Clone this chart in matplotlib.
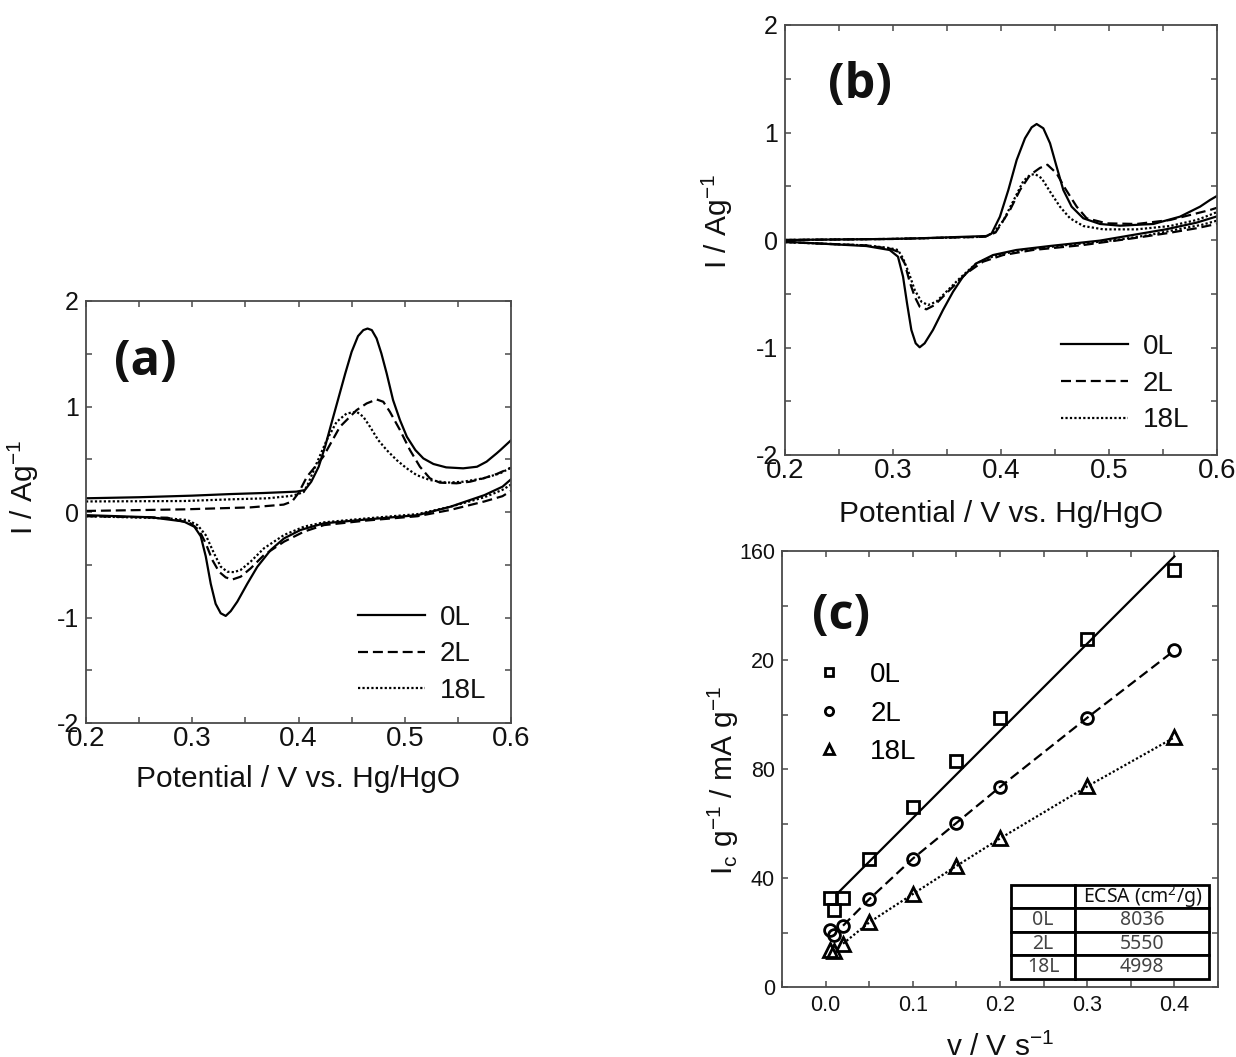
import numpy as np
import matplotlib
matplotlib.use("Agg")
import matplotlib.pyplot as plt
from matplotlib.ticker import MultipleLocator, FixedLocator, FixedFormatter

plt.rcParams['font.family'] = ['Liberation Sans', 'DejaVu Sans']
plt.rcParams['mathtext.fontset'] = 'custom'
plt.rcParams['mathtext.rm'] = 'Liberation Sans'
plt.rcParams['mathtext.it'] = 'Liberation Sans:italic'
plt.rcParams['mathtext.default'] = 'regular'
plt.rcParams['axes.unicode_minus'] = False

# ---------------- data: panel (a) CVs (E / V, I / A g-1) ----------------
a_0L_anodic = [(0.200, 0.13), (0.250, 0.14), (0.300, 0.155), (0.336, 0.17), (0.367, 0.18), (0.398, 0.193),
               (0.406, 0.208), (0.412, 0.287), (0.419, 0.429), (0.425, 0.619), (0.431, 0.840), (0.4375, 1.076),
               (0.444, 1.313), (0.450, 1.518), (0.456, 1.667), (0.461, 1.724), (0.465, 1.739), (0.469, 1.724),
               (0.4735, 1.645), (0.478, 1.503), (0.483, 1.313), (0.489, 1.061), (0.4955, 0.871), (0.502, 0.713),
               (0.510, 0.587), (0.5175, 0.508), (0.527, 0.455), (0.539, 0.423), (0.555, 0.414), (0.568, 0.429),
               (0.577, 0.477), (0.5865, 0.556), (0.590, 0.587), (0.600, 0.68)]
a_0L_cathodic = [(0.200, -0.03), (0.261, -0.05), (0.292, -0.09), (0.302, -0.14), (0.308, -0.23), (0.3127, -0.42),
                 (0.3174, -0.68), (0.322, -0.87), (0.3268, -0.96), (0.3315, -0.985), (0.3362, -0.94),
                 (0.3424, -0.85), (0.3518, -0.68), (0.3612, -0.52), (0.3738, -0.36), (0.3864, -0.25),
                 (0.402, -0.17), (0.424, -0.107), (0.465, -0.07), (0.512, -0.03), (0.543, 0.05), (0.575, 0.16),
                 (0.592, 0.24), (0.600, 0.31)]
a_2L_anodic = [(0.200, 0.01), (0.292, 0.025), (0.355, 0.044), (0.386, 0.07), (0.394, 0.10), (0.400, 0.18),
               (0.408, 0.335), (0.4233, 0.524), (0.439, 0.808), (0.4547, 0.966), (0.4641, 1.029), (0.4735, 1.067),
               (0.4798, 1.045), (0.486, 0.950), (0.4955, 0.777), (0.5049, 0.587), (0.5143, 0.429), (0.5237, 0.319),
               (0.5331, 0.278), (0.5488, 0.272), (0.5614, 0.287), (0.574, 0.319), (0.5865, 0.360), (0.600, 0.42)]
a_2L_cathodic = [(0.200, -0.04), (0.2765, -0.054), (0.2985, -0.108), (0.3064, -0.171), (0.3127, -0.297),
                 (0.3189, -0.455), (0.3252, -0.566), (0.3315, -0.62), (0.3377, -0.64), (0.3456, -0.613),
                 (0.355, -0.534), (0.3675, -0.408), (0.3864, -0.281), (0.4052, -0.186), (0.424, -0.124),
                 (0.465, -0.08), (0.512, -0.04), (0.543, 0.02), (0.575, 0.10), (0.592, 0.15), (0.600, 0.20)]
a_18L_anodic = [(0.200, 0.10), (0.292, 0.104), (0.336, 0.12), (0.371, 0.13), (0.3926, 0.152), (0.398, 0.165),
                (0.405, 0.19), (0.4092, 0.272), (0.417, 0.46), (0.4265, 0.68), (0.4359, 0.855), (0.4453, 0.934),
                (0.4547, 0.95), (0.461, 0.903), (0.4673, 0.808), (0.475, 0.682), (0.483, 0.587), (0.4924, 0.492),
                (0.5018, 0.414), (0.5112, 0.35), (0.5237, 0.303), (0.5394, 0.278), (0.5551, 0.287), (0.574, 0.319),
                (0.5896, 0.366), (0.600, 0.42)]
a_18L_cathodic = [(0.200, -0.04), (0.2765, -0.06), (0.2954, -0.076), (0.3049, -0.124), (0.3127, -0.219),
                  (0.3205, -0.392), (0.3268, -0.518), (0.333, -0.566), (0.3393, -0.57), (0.3456, -0.549),
                  (0.355, -0.47), (0.3675, -0.344), (0.3864, -0.218), (0.4052, -0.139), (0.424, -0.098),
                  (0.465, -0.06), (0.512, -0.02), (0.543, 0.05), (0.575, 0.14), (0.592, 0.21), (0.600, 0.26)]

# ---------------- data: panel (b) CVs ----------------
b_0L_anodic = [(0.200, 0.0), (0.300, 0.01), (0.325, 0.016), (0.3867, 0.037), (0.3913, 0.06), (0.399, 0.217),
               (0.4068, 0.465), (0.4145, 0.744), (0.4222, 0.946), (0.4284, 1.048), (0.433, 1.079), (0.4392, 1.039),
               (0.4454, 0.90), (0.4515, 0.682), (0.4577, 0.465), (0.4654, 0.31), (0.4762, 0.202), (0.4917, 0.149),
               (0.5102, 0.133), (0.5411, 0.149), (0.5657, 0.217), (0.5843, 0.31), (0.5935, 0.372), (0.600, 0.41)]
b_0L_cathodic = [(0.200, -0.016), (0.2753, -0.056), (0.2969, -0.093), (0.3046, -0.155), (0.3093, -0.341),
                 (0.313, -0.589), (0.317, -0.837), (0.321, -0.961), (0.3247, -0.998), (0.3293, -0.961),
                 (0.337, -0.837), (0.3463, -0.651), (0.3556, -0.481), (0.3648, -0.341), (0.3772, -0.217),
                 (0.3926, -0.14), (0.4142, -0.093), (0.4451, -0.056), (0.4914, -0.006), (0.5222, 0.047),
                 (0.5531, 0.10), (0.5809, 0.161), (0.600, 0.22)]
b_2L_anodic = [(0.200, 0.0), (0.300, 0.01), (0.385, 0.03), (0.395, 0.07), (0.4083, 0.279), (0.4176, 0.465),
               (0.4269, 0.605), (0.436, 0.67), (0.443, 0.70), (0.4515, 0.62), (0.4593, 0.481), (0.4701, 0.31),
               (0.4793, 0.202), (0.4978, 0.155), (0.5256, 0.149), (0.5565, 0.186), (0.5812, 0.248),
               (0.5935, 0.279), (0.600, 0.30)]
b_2L_cathodic = [(0.200, -0.02), (0.2753, -0.05), (0.2969, -0.08), (0.3046, -0.109), (0.3108, -0.217),
                 (0.3154, -0.388), (0.3201, -0.527), (0.3247, -0.62), (0.3309, -0.645), (0.3386, -0.605),
                 (0.3463, -0.527), (0.3556, -0.434), (0.3679, -0.31), (0.3833, -0.202), (0.4019, -0.14),
                 (0.4296, -0.093), (0.4759, -0.047), (0.5222, 0.016), (0.5531, 0.062), (0.5809, 0.109),
                 (0.600, 0.15)]
b_18L_anodic = [(0.200, 0.0), (0.300, 0.01), (0.385, 0.03), (0.3929, 0.068), (0.402, 0.177), (0.4114, 0.363),
                (0.4207, 0.549), (0.4269, 0.605), (0.4315, 0.614), (0.4377, 0.574), (0.4454, 0.45),
                (0.4546, 0.31), (0.4639, 0.202), (0.4762, 0.13), (0.4948, 0.099), (0.5256, 0.099),
                (0.5565, 0.13), (0.5812, 0.186), (0.5935, 0.233), (0.600, 0.26)]
b_18L_cathodic = [(0.200, -0.02), (0.2753, -0.05), (0.2969, -0.075), (0.3046, -0.093), (0.3093, -0.171),
                  (0.3148, -0.31), (0.3201, -0.465), (0.3263, -0.574), (0.3324, -0.605), (0.3401, -0.574),
                  (0.3494, -0.481), (0.3617, -0.357), (0.3772, -0.217), (0.3957, -0.14), (0.4204, -0.093),
                  (0.4605, -0.047), (0.5068, 0.0), (0.5377, 0.047), (0.5685, 0.109), (0.5855, 0.14),
                  (0.600, 0.18)]

# ---------------- data: panel (c) ----------------
scan_rate = [0.005, 0.01, 0.02, 0.05, 0.1, 0.15, 0.2, 0.3, 0.4]
ic_0L = [32.6, 28.2, 32.6, 46.8, 65.9, 83.0, 98.8, 127.7, 153.0]
ic_2L = [21.0, 19.2, 22.5, 32.2, 47.1, 60.2, 73.4, 98.8, 123.5]
ic_18L = [13.7, 13.2, 15.9, 23.7, 34.1, 44.4, 54.5, 73.6, 91.6]
fit_0L_slope, fit_0L_intercept, fit_0L_range = 320.0, 30.0, (0.015, 0.4)
c_ytick_values = [0, 40, 80, 120, 160]
c_ytick_labels = ['0', '40', '80', '20', '160']
table_header = ['', 'ECSA (cm$^2$/g)']
table_samples = ['0L', '2L', '18L']
table_ecsa = ['8036', '5550', '4998']

samples = ['0L', '2L', '18L']

# ---------------- styling ----------------
W, H = 1236, 1057
fig = plt.figure(figsize=(W / 100, H / 100), dpi=100)
SP = '#4a4a4a'
TXT = '#111111'
LS = {'0L': '-', '2L': (0, (4.5, 2.2)), '18L': (0, (1.0, 1.0))}
LW = 1.6


def frame(x0, y0, x1, y1):
    return [x0 / W, 1 - y1 / H, (x1 - x0) / W, (y1 - y0) / H]


def style(ax, xfs, yfs):
    for s in ax.spines.values():
        s.set_color(SP)
        s.set_linewidth(1.3)
    ax.tick_params(which='both', direction='in', top=True, right=True, color=SP, width=1.1)
    ax.tick_params(which='major', length=4.5)
    ax.tick_params(which='minor', length=4.5)
    ax.tick_params(axis='x', labelsize=xfs, labelcolor=TXT, pad=2)
    ax.tick_params(axis='y', labelsize=yfs, labelcolor=TXT, pad=5)


def cv_panel(ax, curves, letter, legend_xy):
    for name in samples:
        for branch in curves[name]:
            e = [p[0] for p in branch]
            i = [p[1] for p in branch]
            ln, = ax.plot(e, i, color='black', lw=LW, linestyle=LS[name])
        ln.set_label(name)
    ax.set_xlim(0.2, 0.6)
    ax.set_ylim(-2, 2)
    ax.xaxis.set_major_locator(MultipleLocator(0.1))
    ax.xaxis.set_minor_locator(MultipleLocator(0.05))
    ax.yaxis.set_major_locator(MultipleLocator(1))
    ax.yaxis.set_minor_locator(MultipleLocator(0.5))
    ax.xaxis.set_major_formatter(matplotlib.ticker.FormatStrFormatter('%.1f'))
    ax.yaxis.set_major_formatter(matplotlib.ticker.FormatStrFormatter('%d'))
    style(ax, 20, 18)
    ax.set_xlabel('Potential / V vs. Hg/HgO', fontsize=21.5, color=TXT)
    ax.set_ylabel('I / Ag$^{-1}$', fontsize=21.5, color=TXT)
    ax.text(letter[1], letter[2], letter[0], transform=ax.transAxes, ha='center', va='center',
            fontsize=35, fontweight='bold', family=['Open Sans', 'DejaVu Sans'], color=TXT)
    leg = ax.legend(loc='upper left', bbox_to_anchor=legend_xy, frameon=False, fontsize=20,
                    handlelength=2.4, handletextpad=0.55, labelspacing=0.38, borderpad=0, borderaxespad=0)
    for t in leg.get_texts():
        t.set_color(TXT)


# panel (a)
axa = fig.add_axes(frame(86, 301, 511, 723))
cv_panel(axa, {'0L': [a_0L_anodic, a_0L_cathodic], '2L': [a_2L_anodic, a_2L_cathodic],
               '18L': [a_18L_anodic, a_18L_cathodic]}, ('(a)', 0.139, 0.855), (0.64, 0.28))
axa.xaxis.set_label_coords(0.5, -0.10)
axa.yaxis.set_label_coords(-0.105, 0.557)

# panel (b)
axb = fig.add_axes(frame(785, 25, 1217, 455))
cv_panel(axb, {'0L': [b_0L_anodic, b_0L_cathodic], '2L': [b_2L_anodic, b_2L_cathodic],
               '18L': [b_18L_anodic, b_18L_cathodic]}, ('(b)', 0.174, 0.86), (0.639, 0.281))
axb.xaxis.set_label_coords(0.5, -0.105)
axb.yaxis.set_label_coords(-0.115, 0.542)

# panel (c)
axc = fig.add_axes(frame(782, 551, 1218, 987))
mk = {'0L': 's', '2L': 'o', '18L': '^'}
msz = {'0L': 9, '2L': 8.5, '18L': 10}
vals = {'0L': ic_0L, '2L': ic_2L, '18L': ic_18L}
xf = np.linspace(fit_0L_range[0], fit_0L_range[1], 2)
axc.plot(xf, fit_0L_slope * xf + fit_0L_intercept, color='black', lw=LW, linestyle='-')
axc.plot(scan_rate[2:], ic_2L[2:], color='black', lw=LW, linestyle=LS['2L'])
axc.plot(scan_rate[2:], ic_18L[2:], color='black', lw=LW, linestyle=(0, (1.0, 1.0)))
for name in samples:
    axc.plot(scan_rate, vals[name], linestyle='none', marker=mk[name], markersize=msz[name],
             markerfacecolor='none', markeredgecolor='black', markeredgewidth=2.0, label=name)
axc.set_xlim(-0.05, 0.45)
axc.set_ylim(0, 160)
axc.xaxis.set_major_locator(MultipleLocator(0.1))
axc.xaxis.set_minor_locator(MultipleLocator(0.05))
axc.yaxis.set_major_locator(FixedLocator(c_ytick_values))
axc.yaxis.set_major_formatter(FixedFormatter(c_ytick_labels))
axc.yaxis.set_minor_locator(MultipleLocator(20))
axc.xaxis.set_major_formatter(matplotlib.ticker.FormatStrFormatter('%.1f'))
style(axc, 15.5, 15.5)
axc.tick_params(axis='x', pad=6)
axc.set_xlabel('v / V s$^{-1}$', fontsize=21.5, color=TXT)
axc.set_ylabel('I$_c$ g$^{-1}$ / mA g$^{-1}$', fontsize=21.5, color=TXT)
axc.xaxis.set_label_coords(0.5, -0.105)
axc.yaxis.set_label_coords(-0.095, 0.475)
axc.text(0.135, 0.849, '(c)', transform=axc.transAxes, ha='center', va='center',
         fontsize=35, fontweight='bold', family=['Open Sans', 'DejaVu Sans'], color=TXT)
legc = axc.legend(loc='upper left', bbox_to_anchor=(0.075, 0.745), frameon=False, fontsize=20,
                  handlelength=1.0, handletextpad=1.0, labelspacing=0.45, borderpad=0, borderaxespad=0,
                  markerscale=0.7, numpoints=1)

# ECSA table
cell_text = [[s, v] for s, v in zip(table_samples, table_ecsa)]
tb = axc.table(cellText=cell_text, colLabels=table_header, cellLoc='center',
               bbox=[0.525, 0.019, 0.455, 0.215], colWidths=[0.325, 0.675])
tb.auto_set_font_size(False)
for (r, c), cell in tb.get_celld().items():
    cell.set_linewidth(2.0)
    cell.set_edgecolor('black')
    cell.set_facecolor('white')
    txt = cell.get_text()
    txt.set_fontfamily(['Noto Sans', 'DejaVu Sans'])
    txt.set_fontsize(14)
    if r == 0:
        txt.set_fontweight('bold')
        txt.set_color('#111111')
    else:
        txt.set_color('#444444')

fig.savefig('out.png', dpi=100)
